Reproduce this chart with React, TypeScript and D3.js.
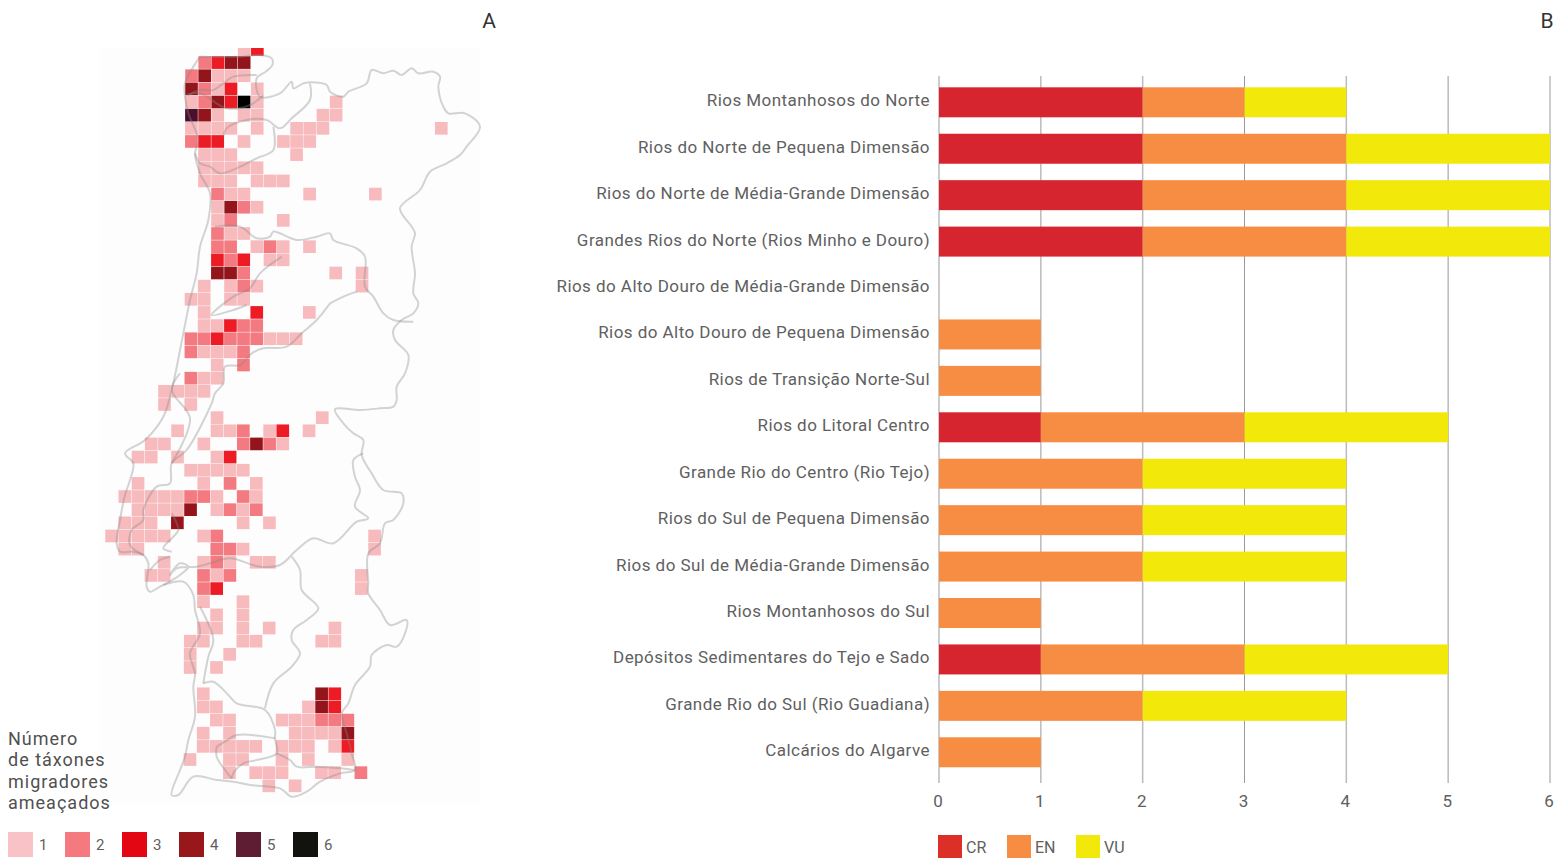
import React from "react";
import * as d3 from "d3";

const categories = [
  "Rios Montanhosos do Norte",
  "Rios do Norte de Pequena Dimensão",
  "Rios do Norte de Média-Grande Dimensão",
  "Grandes Rios do Norte (Rios Minho e Douro)",
  "Rios do Alto Douro de Média-Grande Dimensão",
  "Rios do Alto Douro de Pequena Dimensão",
  "Rios de Transição Norte-Sul",
  "Rios do Litoral Centro",
  "Grande Rio do Centro (Rio Tejo)",
  "Rios do Sul de Pequena Dimensão",
  "Rios do Sul de Média-Grande Dimensão",
  "Rios Montanhosos do Sul",
  "Depósitos Sedimentares do Tejo e Sado",
  "Grande Rio do Sul (Rio Guadiana)",
  "Calcários do Algarve",
];
const crValues = [2, 2, 2, 2, 0, 0, 0, 1, 0, 0, 0, 0, 1, 0, 0];
const enValues = [1, 2, 2, 2, 0, 1, 1, 2, 2, 2, 2, 1, 2, 2, 1];
const vuValues = [1, 2, 2, 2, 0, 0, 0, 2, 2, 2, 2, 0, 2, 2, 0];
const xTicks = [0, 1, 2, 3, 4, 5, 6];
const statusNames = ["CR", "EN", "VU"];
const statusColors = ["#d7252f", "#f78d43", "#f2e90b"];
const statusLegendColors = ["#db2f27", "#f78d43", "#f2e90b"];
const taxaLevels = [1, 2, 3, 4, 5, 6];
const cellColors = ["#f7babd", "#f37a80", "#ed1c24", "#93141a", "#4a0f2c", "#000000"];
const levelLegendColors = ["#f9c2c6", "#f47a80", "#e30613", "#97171a", "#5f1d33", "#12120e"];
const legendTitle = ["Número", "de táxones", "migradores", "ameaçados"];

// [row, [[column, number of threatened taxa], ...]]
const gridRows: [number, number[][]][] = [
  [-1, [[4, 1], [5, 3]]],
  [0, [[1, 2], [2, 3], [3, 4], [4, 4]]],
  [1, [[0, 2], [1, 4], [2, 1], [3, 1], [4, 1]]],
  [2, [[0, 4], [1, 2], [2, 1], [3, 3], [5, 1]]],
  [3, [[0, 1], [1, 2], [2, 4], [3, 3], [4, 6], [5, 1], [11, 1]]],
  [4, [[0, 5], [1, 4], [2, 1], [4, 1], [5, 1], [10, 1], [11, 1]]],
  [5, [[0, 1], [1, 1], [2, 1], [3, 1], [5, 1], [8, 1], [9, 1], [10, 1], [19, 1]]],
  [6, [[0, 2], [1, 3], [2, 3], [4, 1], [7, 1], [8, 1], [9, 1]]],
  [7, [[1, 1], [2, 1], [3, 1], [8, 1]]],
  [8, [[1, 1], [2, 1], [3, 1], [4, 1], [5, 1]]],
  [9, [[1, 1], [2, 1], [3, 1], [5, 1], [6, 1], [7, 1]]],
  [10, [[2, 2], [3, 1], [4, 1], [9, 1], [14, 1]]],
  [11, [[2, 1], [3, 4], [4, 2], [5, 1]]],
  [12, [[2, 1], [3, 2], [7, 1]]],
  [13, [[2, 2], [3, 1], [4, 1]]],
  [14, [[2, 2], [3, 2], [5, 1], [6, 2], [7, 1], [9, 1]]],
  [15, [[2, 3], [3, 2], [4, 3], [6, 1], [7, 1]]],
  [16, [[2, 4], [3, 4], [4, 2], [11, 1], [13, 1]]],
  [17, [[1, 1], [3, 1], [4, 2], [5, 1], [13, 1]]],
  [18, [[0, 1], [1, 1], [3, 1], [4, 1]]],
  [19, [[1, 1], [5, 3], [9, 1]]],
  [20, [[1, 1], [2, 1], [3, 3], [4, 2], [5, 2]]],
  [21, [[0, 2], [1, 2], [2, 3], [3, 2], [4, 2], [5, 2], [6, 1], [7, 1], [8, 1]]],
  [22, [[0, 2], [1, 1], [2, 1], [3, 1], [4, 2]]],
  [23, [[2, 1], [4, 2]]],
  [24, [[0, 2], [1, 1], [2, 1]]],
  [25, [[-2, 1], [-1, 1], [0, 1], [1, 1]]],
  [26, [[-2, 1], [0, 1]]],
  [27, [[2, 1], [10, 1]]],
  [28, [[-1, 1], [2, 1], [3, 1], [4, 2], [6, 1], [7, 3], [9, 1]]],
  [29, [[-3, 1], [-2, 1], [1, 1], [4, 2], [5, 4], [6, 2], [7, 1]]],
  [30, [[-4, 1], [-3, 1], [-1, 1], [2, 1], [3, 3]]],
  [31, [[0, 1], [1, 1], [2, 1], [3, 1], [4, 1]]],
  [32, [[-4, 1], [1, 1], [3, 2], [5, 1]]],
  [33, [[-5, 1], [-4, 1], [-3, 1], [-2, 1], [-1, 1], [0, 2], [1, 2], [2, 1], [4, 2], [5, 1]]],
  [34, [[-4, 1], [-3, 1], [-2, 1], [-1, 1], [0, 4], [2, 1], [3, 2], [4, 1], [5, 2]]],
  [35, [[-5, 1], [-4, 1], [-3, 1], [-1, 4], [4, 1], [6, 1]]],
  [36, [[-6, 1], [-5, 1], [-4, 1], [-3, 1], [-2, 1], [1, 1], [2, 2], [14, 1]]],
  [37, [[-5, 1], [-4, 1], [2, 2], [3, 2], [4, 1], [14, 1]]],
  [38, [[-2, 1], [1, 1], [2, 2], [3, 1], [5, 1], [6, 1]]],
  [39, [[-3, 1], [-2, 1], [1, 2], [2, 1], [3, 2], [13, 1]]],
  [40, [[1, 2], [2, 3], [13, 1]]],
  [41, [[1, 1], [4, 1]]],
  [42, [[2, 1], [4, 1]]],
  [43, [[1, 1], [2, 1], [4, 1], [6, 1], [11, 1]]],
  [44, [[0, 1], [1, 1], [4, 1], [5, 1], [10, 1], [11, 1]]],
  [45, [[0, 1], [3, 1]]],
  [46, [[0, 1], [2, 1]]],
  [48, [[1, 1], [10, 4], [11, 3]]],
  [49, [[1, 1], [2, 1], [9, 1], [10, 4], [11, 3]]],
  [50, [[2, 1], [3, 1], [7, 1], [8, 1], [9, 1], [10, 2], [11, 2], [12, 2]]],
  [51, [[1, 1], [3, 1], [8, 1], [9, 1], [10, 1], [11, 1], [12, 4]]],
  [52, [[1, 1], [2, 1], [3, 1], [4, 1], [5, 1], [7, 1], [8, 1], [9, 1], [11, 1], [12, 3]]],
  [53, [[0, 1], [3, 1], [4, 1], [7, 1], [9, 1], [12, 1]]],
  [54, [[3, 1], [5, 1], [6, 1], [7, 1], [10, 1], [11, 1], [13, 2]]],
  [55, [[6, 1], [8, 1]]],
];

// Basin outlines, as map units
const outerBorder = [
  [300,50],[415,50],[480,45],[515,55],[517,75],[497,95],[470,115],[480,170],[540,160],[575,125],[580,145],[610,130],[635,127],[680,135],[690,155],[730,170],[745,155],[800,130],[815,90],[850,100],[880,92],[905,105],[935,85],[955,100],[1000,95],[1020,110],[1015,140],[1030,200],[1045,220],[1095,220],[1140,260],[1100,320],[1080,345],[1040,370],[990,395],[960,450],[900,505],[935,560],[945,580],[935,620],[945,700],[940,760],
  [955,790],[940,820],[905,840],[880,870],[885,900],[925,945],[915,1000],[890,1040],[890,1080],[880,1100],[840,1105],[780,1110],[705,1108],[730,1150],[760,1180],[790,1200],[785,1245],[815,1300],[850,1350],[905,1360],[910,1390],[880,1440],[855,1450],[840,1510],
  [805,1540],[805,1630],[805,1660],[840,1710],[870,1755],[920,1740],[915,1780],[890,1820],[860,1815],[815,1845],[810,1880],[765,1935],[745,1990],[725,2020],[740,2080],[755,2140],[765,2190],[720,2200],[660,2225],[620,2255],[575,2270],[540,2245],[450,2235],[400,2225],[350,2220],[280,2210],[235,2265],[215,2265],[240,2190],[255,2150],[265,2100],[285,2030],[280,1940],[285,1900],[270,1840],[300,1780],[285,1710],[280,1665],[250,1625],[190,1635],[150,1655],[140,1640],[145,1570],[130,1545],[100,1535],[60,1535],[50,1510],[60,1440],[75,1365],[90,1320],[100,1270],[75,1240],[135,1200],[190,1130],[215,1050],[250,880],[270,780],[290,700],[300,620],[325,540],[330,460],[300,400],[285,340],[295,300],[265,220],[255,170],[255,130],[300,50],
];
const innerBoundaries = [
  [[630,130],[630,180],[575,235],[540,265],[500,240],[440,240],[380,265],[370,290]],
  [[520,260],[520,330],[470,355],[410,385],[360,400],[330,380],[300,370],[285,340]],
  [[490,165],[450,195],[380,205],[300,160],[260,165]],
  [[265,165],[300,150],[340,150],[370,130],[400,110],[470,105]],
  [[345,560],[420,560],[470,595],[510,590],[520,575],[590,600],[650,590],[690,580],[700,600],[770,625],[795,650],[795,740],[820,770],[850,820],[880,840],[940,845]],
  [[545,650],[480,700],[450,745],[400,770],[335,825],[400,810],[440,795]],
  [[690,790],[650,840],[605,880],[560,920],[490,925],[455,940],[420,975],[375,980],[370,1030],[345,1060],[335,1090],[260,1230],[215,1270],[210,1330],[170,1340],[130,1410],[130,1440],[95,1470],[90,1515],[130,1545]],
  [[240,1000],[215,1050],[270,1135],[215,1270]],
  [[690,790],[730,770],[770,755]],
  [[790,1240],[760,1260],[765,1310],[780,1350],[765,1400],[805,1435],[770,1445],[700,1510],[640,1495],[590,1530],[540,1575],[480,1580],[390,1555],[330,1570],[290,1580],[230,1585],[210,1605],[240,1570],[265,1580],[240,1605],[190,1635]],
  [[215,1420],[235,1470],[220,1490],[190,1525],[215,1535]],
  [[150,1590],[180,1560],[210,1550]],
  [[575,1550],[600,1590],[605,1650],[655,1705],[620,1740],[580,1770],[575,1800],[600,1840],[575,1880],[520,1930],[495,2005]],
  [[310,1930],[340,1925],[385,1965],[410,1990],[495,2010],[525,2070],[525,2095],[530,2140],[470,2160],[430,2170],[400,2200],[395,2215]],
  [[350,2120],[375,2105],[410,2085],[525,2095]],
  [[350,2120],[350,2150],[375,2190],[395,2215]],
  [[310,1930],[325,1850],[340,1800],[300,1700]],
  [[530,2140],[570,2160],[590,2180],[650,2180],[720,2185],[765,2190]],
];

const WIDTH = 1567;
const HEIGHT = 858;
const FONT = "'Roboto', 'Noto Sans', sans-serif";
const TEXT = "#606060";

const x = d3.scaleLinear().domain([0, 6]).range([939, 1550]);
const y = d3.scaleBand<number>().domain(d3.range(categories.length)).range([79.1, 775.5]).paddingInner(0.354).paddingOuter(0.177);

const colX = d3.scaleLinear().domain([0, 1]).range([185, 198.15]);
const rowY = d3.scaleLinear().domain([0, 1]).range([56, 69.15]);
const rowShear = d3.scaleLinear().domain([0, 48]).range([0, -1.44]);
const mapX = d3.scaleLinear().domain([0, 1170]).range([100, 490]);
const mapY = d3.scaleLinear().domain([0, 2310]).range([40, 810]);
const outline = d3.line<number[]>().x((p) => mapX(p[0])).y((p) => mapY(p[1])).curve(d3.curveCatmullRom.alpha(0.5));

export default function App() {
  const series = [crValues, enValues, vuValues];
  return (
    <svg width={WIDTH} height={HEIGHT} viewBox={`0 0 ${WIDTH} ${HEIGHT}`} style={{ position: "absolute", left: 0, top: 0, fontFamily: FONT }}>
      <rect width={WIDTH} height={HEIGHT} fill="#fff" />
      <text x={489} y={28} textAnchor="middle" fontSize={21} fill="#333">A</text>
      <text x={1547} y={28} textAnchor="middle" fontSize={21} fill="#333">B</text>

      <rect x={100} y={48} width={380} height={757} fill="#fdfdfd" />
      <clipPath id="mapclip"><rect x={100} y={48} width={390} height={760} /></clipPath>
      <g clipPath="url(#mapclip)">
        {gridRows.flatMap(([r, cells]) =>
          cells.map(([c, v]) => (
            <rect key={`${r}-${c}`} x={colX(c) + rowShear(r) + 0.25} y={rowY(r) + 0.25} width={colX(1) - colX(0) - 0.5} height={rowY(1) - rowY(0) - 0.5}
              fill={cellColors[v - 1]} />
          ))
        )}
      </g>
      <g fill="none" stroke="#888" strokeOpacity={0.36} strokeWidth={2} strokeLinejoin="round">
        <path d={outline(outerBorder) || ""} />
        {innerBoundaries.map((b, i) => <path key={i} d={outline(b) || ""} />)}
      </g>

      {legendTitle.map((t, i) => (
        <text key={t} x={8} y={745 + i * 21.3} fontSize={18} letterSpacing={1} fill="#505050">{t}</text>
      ))}
      {taxaLevels.map((l, i) => (
        <g key={l}>
          <rect x={8 + i * 57} y={832} width={25} height={25} fill={levelLegendColors[i]} />
          <text x={39 + i * 57} y={850} fontSize={15} fill={TEXT}>{l}</text>
        </g>
      ))}

      {xTicks.map((t) => (
        <g key={t}>
          <line x1={x(t)} x2={x(t)} y1={76} y2={783} stroke={t === 3 ? "#999" : "#bbb"} strokeWidth={t === 3 ? 1 : 1.5} />
          <text x={x(t) - 1} y={807} textAnchor="middle" fontSize={17} fill={TEXT}>{t}</text>
        </g>
      ))}

      {categories.map((name, i) => {
        let acc = 0;
        return (
          <g key={name}>
            {series.map((s, k) => {
              const x0 = acc;
              acc += s[i];
              return s[i] > 0 ? (
                <rect key={k} x={x(x0)} y={y(i)} width={x(acc) - x(x0)} height={y.bandwidth()} fill={statusColors[k]} />
              ) : null;
            })}
            <text x={930} y={(y(i) as number) + y.bandwidth() / 2 + 4} textAnchor="end" fontSize={17} letterSpacing={0.45} fill={TEXT}>{name}</text>
          </g>
        );
      })}

      {statusNames.map((s, i) => (
        <g key={s}>
          <rect x={938 + i * 69} y={835} width={24} height={23} fill={statusLegendColors[i]} />
          <text x={966 + i * 69} y={853} fontSize={16} fill={TEXT}>{s}</text>
        </g>
      ))}
    </svg>
  );
}
